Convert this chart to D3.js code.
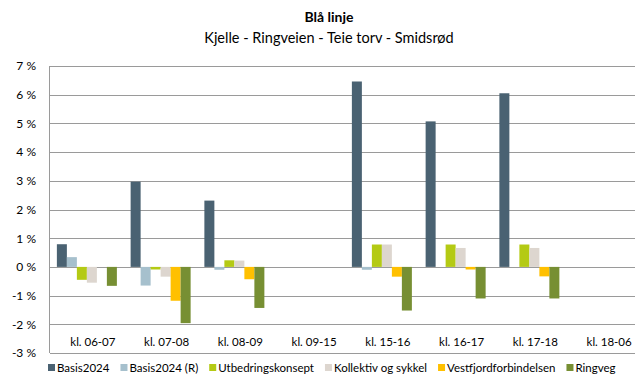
<!DOCTYPE html>
<html>
<head>
<meta charset="utf-8">
<script src="https://cdn.jsdelivr.net/npm/d3@7"></script>
<style>
  html, body { margin: 0; padding: 0; background: #fff; }
  svg { display: block; font-family: Lato, "Open Sans", sans-serif; }
</style>
</head>
<body>
<svg id="chart" width="635" height="376"></svg>
<script>
// Time-band labels along the x axis
const categories = ["kl. 06-07", "kl. 07-08", "kl. 08-09", "kl. 09-15", "kl. 15-16", "kl. 16-17", "kl. 17-18", "kl. 18-06"];

// Series names and colours (legend order)
const seriesNames = ["Basis2024", "Basis2024 (R)", "Utbedringskonsept", "Kollektiv og sykkel", "Vestfjordforbindelsen", "Ringveg"];
const seriesColors = ["#4a6272", "#a6c0cd", "#b4ca14", "#ddd6cf", "#ffc000", "#778f33"];

// Change in percent per time band
const basis2024      = [0.79, 2.97, 2.31, 0, 6.46, 5.07, 6.05, 0];
const basis2024R     = [0.34, -0.65, -0.10, 0, -0.10, 0, 0, 0];
const utbedring      = [-0.45, -0.09, 0.23, 0, 0.78, 0.78, 0.78, 0];
const kollektiv      = [-0.55, -0.34, 0.22, 0, 0.78, 0.66, 0.66, 0];
const vestfjord      = [0, -1.18, -0.43, 0, -0.34, -0.09, -0.33, 0];
const ringveg        = [-0.66, -1.96, -1.43, 0, -1.52, -1.10, -1.10, 0];

const yTicks = [-3, -2, -1, 0, 1, 2, 3, 4, 5, 6, 7];

const seriesValues = [basis2024, basis2024R, utbedring, kollektiv, vestfjord, ringveg];

const svg = d3.select("#chart");

const plotLeft = 50, plotRight = 640, plotTop = 66, plotBottom = 353;

const x = d3.scaleBand().domain(categories).range([plotLeft, plotRight]).paddingInner(0).paddingOuter(0);
const groupPad = x.bandwidth() * 0.0932;
const xs = d3.scaleBand().domain(seriesNames).range([groupPad, x.bandwidth() - groupPad]).padding(0);
const y = d3.scaleLinear().domain([-3, 7]).range([plotBottom, plotTop]);

// Titles
svg.append("text").attr("x", 329).attr("y", 22).attr("text-anchor", "middle")
  .attr("font-size", 14).attr("font-weight", "bold").attr("fill", "#000").text("Blå linje");
svg.append("text").attr("x", 329).attr("y", 43).attr("text-anchor", "middle")
  .attr("font-size", 14.5).attr("fill", "#000").text("Kjelle - Ringveien - Teie torv - Smidsrød");

// Gridlines
svg.append("g").selectAll("line").data(yTicks).join("line")
  .attr("x1", plotLeft).attr("x2", 635)
  .attr("y1", d => Math.round(y(d)) + 0.5).attr("y2", d => Math.round(y(d)) + 0.5)
  .attr("stroke", "#9a9a9a").attr("stroke-width", 1);

// Y axis labels
const yAxis = d3.axisLeft(y).tickValues(yTicks).tickSize(0).tickPadding(14)
  .tickFormat(d => d + " %");
const gy = svg.append("g").attr("transform", `translate(${plotLeft},0)`).call(yAxis);
gy.select(".domain").remove();
gy.selectAll("text").attr("font-size", 12).attr("fill", "#000").attr("font-family", "Lato, sans-serif");

// Bars
const groups = svg.append("g").selectAll("g").data(categories).join("g")
  .attr("transform", d => `translate(${x(d)},0)`);
groups.selectAll("rect")
  .data((c, i) => seriesNames.map((s, k) => ({ s, k, v: seriesValues[k][i] })).filter(d => d.v !== 0))
  .join("rect")
  .attr("x", d => xs(d.s))
  .attr("width", xs.bandwidth())
  .attr("y", d => y(Math.max(0, d.v)))
  .attr("height", d => Math.abs(y(d.v) - y(0)))
  .attr("fill", d => seriesColors[d.k]);

// Y axis line
svg.append("line").attr("x1", plotLeft - 0.5).attr("x2", plotLeft - 0.5).attr("y1", plotTop).attr("y2", plotBottom)
  .attr("stroke", "#9a9a9a");

// Category labels
const xAxis = d3.axisBottom(x).tickSize(0).tickPadding(0);
const gx = svg.append("g").attr("transform", `translate(6,${plotBottom - 15})`).call(xAxis);
gx.select(".domain").remove();
gx.selectAll("text").attr("font-size", 11.5).attr("fill", "#000").attr("font-family", "Lato, sans-serif");

// Legend
const legend = svg.append("g").attr("transform", "translate(48,368)");
let lx = 0;
seriesNames.forEach((name, k) => {
  const item = legend.append("g").attr("transform", `translate(${lx},0)`);
  item.append("rect").attr("x", 0).attr("y", -4).attr("width", 7).attr("height", 7).attr("fill", seriesColors[k]);
  const t = item.append("text").attr("x", 9).attr("y", 4).attr("font-size", 11.5).attr("fill", "#000").text(name);
  lx += 9 + t.node().getComputedTextLength() + 11;
});
</script>
</body>
</html>
